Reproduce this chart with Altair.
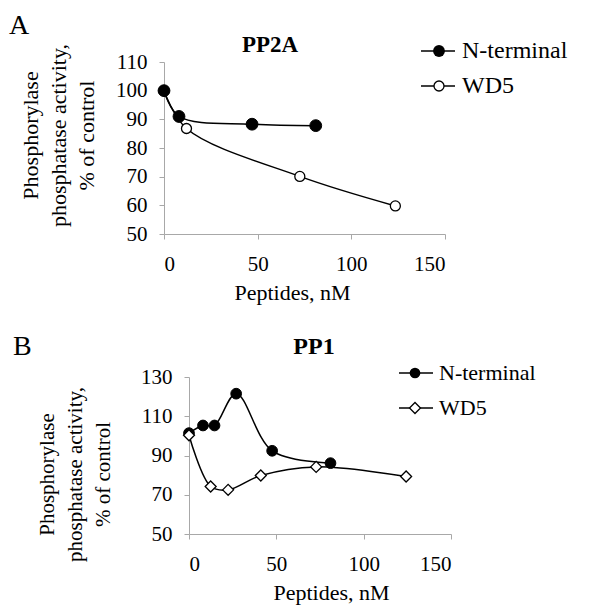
import altair as alt
import pandas as pd

FONT = "Liberation Serif"

series_names = ["N-terminal", "WD5"]

# Panel A (PP2A)
a_nterm_x = [0, 8, 47, 81]
a_nterm_y = [100, 91, 88.3, 87.8]
a_wd5_x = [0, 12, 72.5, 123.5]
a_wd5_y = [100, 86.8, 70.1, 59.8]

# Panel B (PP1)
b_nterm_x = [0, 8, 14.6, 27, 47.6, 81]
b_nterm_y = [101.4, 105.3, 105.3, 121.5, 92.4, 86.1]
b_wd5_x = [0, 12.4, 22.4, 41.1, 72.8, 124.3]
b_wd5_y = [100.3, 74.2, 72.5, 79.8, 84.2, 79.3]

x_ticks = [0, 50, 100, 150]
a_y_ticks = [50, 60, 70, 80, 90, 100, 110]
b_y_ticks = [50, 70, 90, 110, 130]

y_title = ["Phosphorylase", "phosphatase activity,", "% of control"]


def frame(nx, ny, wx, wy):
    rows = []
    for x, y in zip(nx, ny):
        rows.append({"conc": x, "act": y, "series": series_names[0]})
    for x, y in zip(wx, wy):
        rows.append({"conc": x, "act": y, "series": series_names[1]})
    return pd.DataFrame(rows)


def one():
    return alt.Data(values=[{"k": 0}])


def panel(df, w, h, xrange, yoffset, ydom, yticks, xtitle, xtitle_x, xtitle_y,
          ytitle_x, ytitle_y, ytitle_size, title, title_x, title_y, title_size,
          letter, letter_x, letter_y, leg, leg_size, wd5_shape, wd5_size,
          n_size, point_order):
    xenc = alt.X("conc:Q",
                 scale=alt.Scale(domain=[0, 150], range=xrange, nice=False, zero=False),
                 axis=alt.Axis(values=x_ticks, tickCount=20, title=xtitle,
                               titleX=xtitle_x, titleY=xtitle_y, titleBaseline="middle",
                               labelPadding=14, labelOverlap=False))
    yenc = alt.Y("act:Q",
                 scale=alt.Scale(domain=ydom, nice=False, zero=False),
                 axis=alt.Axis(values=yticks, tickCount=20, offset=yoffset,
                               title=y_title, titleX=ytitle_x,
                               titleY=ytitle_y, titleBaseline="middle",
                               titleAlign="center", titleAngle=270,
                               titleFontSize=ytitle_size,
                               titleLineHeight=28,
                               labelPadding=12, labelOverlap=False))
    base = alt.Chart(df)
    lines = base.mark_line(interpolate="catmull-rom", color="black",
                           strokeWidth=1.5).encode(x=xenc, y=yenc,
                                                   detail="series:N")
    layers = [lines]
    for s in point_order:
        if s == "WD5":
            pts = base.transform_filter(alt.datum.series == s).mark_point(
                shape=wd5_shape, size=wd5_size, filled=True, fill="white",
                stroke="black", strokeWidth=1.3, opacity=1).encode(x="conc:Q", y="act:Q")
        else:
            pts = base.transform_filter(alt.datum.series == s).mark_point(
                shape="circle", size=n_size, filled=True, fill="black",
                stroke="black", strokeWidth=1, opacity=1).encode(x="conc:Q", y="act:Q")
        layers.append(pts)

    # title and panel letter
    layers.append(alt.Chart(one()).mark_text(
        font=FONT, fontSize=title_size, fontWeight="bold", align="center",
        baseline="alphabetic", color="black").encode(
        x=alt.value(title_x), y=alt.value(title_y), text=alt.value(title)))
    layers.append(alt.Chart(one()).mark_text(
        font=FONT, fontSize=28, align="left", baseline="alphabetic",
        color="black").encode(
        x=alt.value(letter_x), y=alt.value(letter_y), text=alt.value(letter)))

    # legend
    lx0, lx1, mx, tx, ys = leg
    for i, s in enumerate(series_names):
        yy = ys[i]
        layers.append(alt.Chart(one()).mark_rule(color="black", strokeWidth=1.5).encode(
            x=alt.value(lx0), x2=alt.value(lx1), y=alt.value(yy)))
        if s == "WD5":
            layers.append(alt.Chart(one()).mark_point(
                shape=wd5_shape, size=wd5_size, filled=True, fill="white",
                stroke="black", strokeWidth=1.3, opacity=1).encode(
                x=alt.value(mx), y=alt.value(yy)))
        else:
            layers.append(alt.Chart(one()).mark_point(
                shape="circle", size=n_size, filled=True, fill="black",
                opacity=1).encode(x=alt.value(mx), y=alt.value(yy)))
        layers.append(alt.Chart(one()).mark_text(
            font=FONT, fontSize=leg_size, align="left", baseline="middle",
            color="black").encode(
            x=alt.value(tx), y=alt.value(yy), text=alt.value(s)))

    return alt.layer(*layers).properties(width=w, height=h)


dfA = frame(a_nterm_x, a_nterm_y, a_wd5_x, a_wd5_y)
dfB = frame(b_nterm_x, b_nterm_y, b_wd5_x, b_wd5_y)

A = panel(dfA, 281, 172, [0, 281], 0, [50, 110], a_y_ticks, "Peptides, nM", 128, 58,
          -134, 73, 22, "PP2A", 106, -10, 23, "A", -155, -28,
          (257, 291, 275, 298, [-11, 24]), 24, "circle", 100, 140,
          ["WD5", "N-terminal"])
B = panel(dfB, 287, 157, [25, 287], -25, [50, 130], b_y_ticks, "Peptides,  nM", 167, 58,
          -142, 97, 21, "PP1", 150, -23, 24, "B", -151, -22,
          (235, 269, 251, 275, [-4, 31]), 22, "diamond", 120, 115,
          ["N-terminal", "WD5"])

chart = alt.vconcat(A, B, spacing=30).properties(
    padding={"left": 1, "top": 4, "right": 2, "bottom": 2}
).configure(font=FONT).configure_view(stroke=None).configure_axis(
    grid=False, domainColor="#a8a8a8", tickColor="#a8a8a8", tickSize=5,
    labelFont=FONT, labelFontSize=21, labelColor="black",
    titleFont=FONT, titleFontSize=22, titleFontWeight="normal", titleColor="black"
)

chart.save("out.html", embed_options={"renderer": "svg", "actions": False})
